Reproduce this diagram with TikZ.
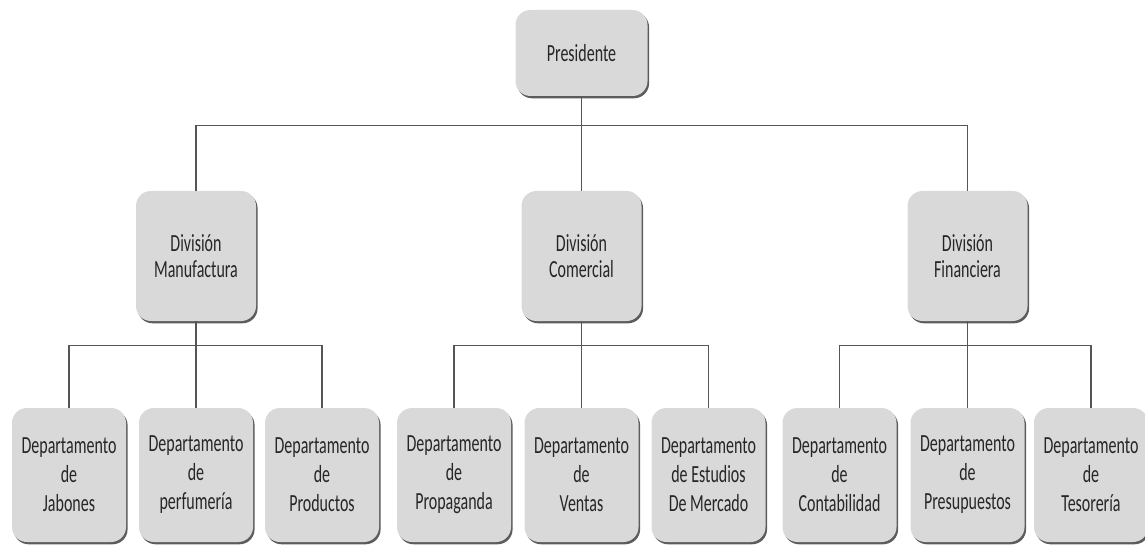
\documentclass[tikz,border=0pt]{standalone}
\usepackage{fontspec}
\setmainfont{Carlito}[FakeStretch=0.65]
\usepackage{xcolor}
\usepackage{tikz}
\usetikzlibrary{positioning,shadows}

\definecolor{boxgray}{HTML}{D9D9D9}
\definecolor{linegray}{HTML}{555555}

\begin{document}
\begin{tikzpicture}[font=\fontsize{14}{16.5}\selectfont, text=black!85,
  box/.style={fill=boxgray, rounded corners=8.5pt, align=center, inner sep=0pt,
    drop shadow={shadow xshift=0.9pt, shadow yshift=-1.3pt, fill=black!75, opacity=0.85}},
  divbox/.style={box, minimum width=2.4cm, minimum height=2.6cm, font=\fontsize{14}{15}\selectfont},
  depbox/.style={box, minimum width=2.28cm, minimum height=2.68cm},
  link/.style={draw=linegray, line width=0.6pt}]
\useasboundingbox (0,0) rectangle (22.9,10.88);
% top level
\node[box, minimum width=2.64cm, minimum height=1.72cm] (pres) at (11.63,9.82) {Presidente};
% divisions
\node[divbox] (man) at (3.92,5.76) {División\\Manufactura};
\node[divbox] (com) at (11.63,5.76) {División\\Comercial};
\node[divbox] (fin) at (19.35,5.76) {División\\Financiera};
% departments
\node[depbox] (jab) at (1.38,1.38) {Departamento\\de\\Jabones};
\node[depbox] (per) at (3.92,1.38) {Departamento\\de\\perfumería};
\node[depbox] (pro) at (6.44,1.38) {Departamento\\de\\Productos};
\node[depbox] (prg) at (9.08,1.38) {Departamento\\de\\Propaganda};
\node[depbox] (ven) at (11.63,1.38) {Departamento\\de\\Ventas};
\node[depbox] (est) at (14.17,1.38) {Departamento\\de Estudios\\De Mercado};
\node[depbox] (con) at (16.79,1.38) {Departamento\\de\\Contabilidad};
\node[depbox] (pre) at (19.35,1.38) {Departamento\\de\\Presupuestos};
\node[depbox] (tes) at (21.82,1.38) {Departamento\\de\\Tesorería};
% connectors
\draw[link] (pres.south) -- ++(0,-0.58) coordinate (b0);
\draw[link] (b0) -| (man.north); \draw[link] (b0) -| (fin.north); \draw[link] (b0) -- (com.north);
\draw[link] (man.south) -- ++(0,-0.48) coordinate (b1);
\draw[link] (b1) -| (jab.north); \draw[link] (b1) -| (pro.north); \draw[link] (b1) -- (per.north);
\draw[link] (com.south) -- ++(0,-0.48) coordinate (b2);
\draw[link] (b2) -| (prg.north); \draw[link] (b2) -| (est.north); \draw[link] (b2) -- (ven.north);
\draw[link] (fin.south) -- ++(0,-0.48) coordinate (b3);
\draw[link] (b3) -| (con.north); \draw[link] (b3) -| (tes.north); \draw[link] (b3) -- (pre.north);
\end{tikzpicture}
\end{document}
